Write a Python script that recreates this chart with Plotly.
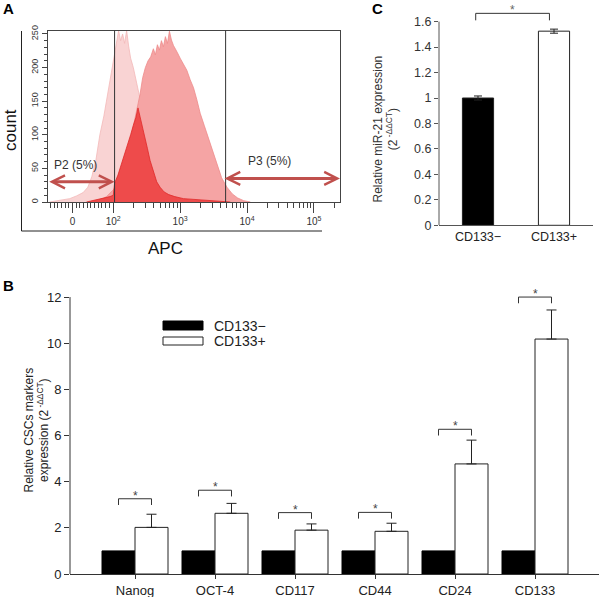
import plotly.graph_objects as go

# ---- Panel A: APC histograms (x in log-decade units, y in counts) ----
apc_iso = [1.05, 1.20, 1.35, 1.45, 1.55, 1.62, 1.68, 1.74, 1.80, 1.86, 1.92, 1.97, 2.01, 2.05,
           2.08, 2.11, 2.14, 2.17, 2.20, 2.23, 2.26, 2.30, 2.35, 2.40, 2.46, 2.52, 2.58, 2.65,
           2.72, 2.80, 2.90, 3.05]
count_iso = [0, 2, 5, 9, 14, 22, 38, 62, 100, 128, 162, 188, 214, 236,
             255, 240, 250, 236, 255, 232, 214, 200, 178, 154, 122, 92, 66, 42,
             25, 13, 5, 0]

apc_mid = [1.70, 1.80, 1.90, 2.00, 2.08, 2.14, 2.20, 2.25, 2.30, 2.35, 2.40, 2.44, 2.48, 2.52,
           2.56, 2.60, 2.63, 2.66, 2.69, 2.72, 2.75, 2.78, 2.81, 2.84, 2.87, 2.90, 2.93, 2.96,
           3.00, 3.05, 3.10, 3.15, 3.20, 3.25, 3.30, 3.36, 3.42, 3.48, 3.55, 3.62, 3.70, 3.78,
           3.86, 3.95, 4.05]
count_mid = [0, 3, 8, 18, 30, 45, 65, 88, 112, 135, 160, 185, 200, 210,
             216, 228, 219, 234, 226, 240, 231, 246, 236, 254, 241, 233, 228, 222,
             214, 206, 196, 182, 170, 152, 132, 114, 96, 76, 58, 36, 22, 12,
             6, 2, 0]

apc_pos = [1.60, 1.75, 1.85, 1.95, 2.00, 2.02, 2.07, 2.12, 2.17, 2.22, 2.26, 2.30, 2.34, 2.37,
           2.40, 2.43, 2.47, 2.51, 2.55, 2.60, 2.65, 2.70, 2.76, 2.83, 2.92, 3.05, 3.20, 3.40,
           3.60, 3.75]
count_pos = [0, 3, 5, 8, 10, 28, 40, 55, 72, 88, 100, 114, 126, 140,
             128, 116, 98, 80, 62, 44, 30, 22, 15, 11, 8, 5, 4, 3,
             1, 0]

gate_p2 = 2.02
gate_p3 = 3.68
arrow_p2_count = 30
arrow_p3_count = 35
label_p2 = "P2 (5%)"
label_p3 = "P3 (5%)"
apc_tickvals = [1.39, 2, 3, 4, 5]
apc_ticktext = ["0", "10<sup>2</sup>", "10<sup>3</sup>", "10<sup>4</sup>", "10<sup>5</sup>"]
count_tickvals = [0, 50, 100, 150, 200, 250]

# ---- Panel B: CSC markers ----
markers = ["Nanog", "OCT-4", "CD117", "CD44", "CD24", "CD133"]
neg_vals = [1, 1, 1, 1, 1, 1]
pos_vals = [2.02, 2.63, 1.90, 1.85, 4.77, 10.18]
pos_err = [0.57, 0.43, 0.27, 0.35, 1.03, 1.26]
bracket_b = [3.26, 3.63, 2.66, 2.67, 6.27, 12.0]

# ---- Panel C: miR-21 ----
groups = ["CD133\u2212", "CD133+"]
mir21 = [1.0, 1.525]
mir21_err = [0.016, 0.016]
bracket_c = 1.665

FONT = "Arial, Liberation Sans, sans-serif"
W, H = 600, 597


def px(x):
    return x / W


def py(y):
    return 1 - y / H


def label(x, y, text, size=12, color="#222", angle=0, xanchor="center"):
    return dict(x=px(x), y=py(y), xref="paper", yref="paper", text=text, textangle=angle,
                xanchor=xanchor, yanchor="middle", showarrow=False,
                font=dict(family=FONT, size=size, color=color))


fig = go.Figure()

# panel A histograms
fig.add_trace(go.Scatter(x=apc_iso, y=count_iso, mode="lines", fill="tozeroy",
                         line=dict(color="#f3b9b9", width=0.8), fillcolor="#f9d3d3",
                         xaxis="x", yaxis="y"))
fig.add_trace(go.Scatter(x=apc_mid, y=count_mid, mode="lines", fill="tozeroy",
                         line=dict(color="#ee8c8c", width=0.8), fillcolor="#f5a4a4",
                         xaxis="x", yaxis="y"))
fig.add_trace(go.Scatter(x=apc_pos, y=count_pos, mode="lines", fill="tozeroy",
                         line=dict(color="#e02a2a", width=0.8), fillcolor="#ee4b4b",
                         xaxis="x", yaxis="y"))

# panel B bars
fig.add_trace(go.Bar(x=markers, y=neg_vals, name="CD133\u2212", marker=dict(color="black", line=dict(color="black", width=1)),
                     xaxis="x2", yaxis="y2"))
fig.add_trace(go.Bar(x=markers, y=pos_vals, name="CD133+", marker=dict(color="white", line=dict(color="#222", width=1)),
                     error_y=dict(type="data", array=pos_err, arrayminus=[0] * len(pos_err), symmetric=False,
                                  color="#222", thickness=1, width=5),
                     xaxis="x2", yaxis="y2"))

# panel C bars
fig.add_trace(go.Bar(x=groups, y=mir21, width=0.41,
                     marker=dict(color=["black", "white"], line=dict(color="#222", width=1)),
                     error_y=dict(type="data", array=mir21_err, color="#222", thickness=1, width=4),
                     xaxis="x3", yaxis="y3"))

shapes = []
annotations = []

# gates in panel A
for g in (gate_p2, gate_p3):
    shapes.append(dict(type="line", xref="x", yref="y domain", x0=g, x1=g, y0=0, y1=1,
                       line=dict(color="#333", width=1)))
annotations.append(dict(x=gate_p2, y=arrow_p2_count, ax=1.02, ay=arrow_p2_count, xref="x", yref="y",
                        axref="x", ayref="y", text="", showarrow=True, arrowhead=5, arrowside="end+start",
                        arrowwidth=3, arrowsize=0.85, arrowcolor="#c0504d", standoff=0, startstandoff=0))
annotations.append(dict(x=5.39, y=arrow_p3_count, ax=gate_p3 - 0.04, ay=arrow_p3_count, xref="x", yref="y",
                        axref="x", ayref="y", text="", showarrow=True, arrowhead=5, arrowside="end+start",
                        arrowwidth=3, arrowsize=0.85, arrowcolor="#c0504d", standoff=0, startstandoff=0))
annotations.append(dict(x=1.44, y=55, xref="x", yref="y", text=label_p2, showarrow=False,
                        font=dict(family=FONT, size=12, color="#333")))
annotations.append(dict(x=4.34, y=61, xref="x", yref="y", text=label_p3, showarrow=False,
                        font=dict(family=FONT, size=12, color="#333")))

# outer L axis for panel A
shapes.append(dict(type="line", xref="paper", yref="paper", x0=px(21.5), x1=px(21.5), y0=py(31), y1=py(231),
                   line=dict(color="#222", width=1)))
shapes.append(dict(type="line", xref="paper", yref="paper", x0=px(21.5), x1=px(322), y0=py(231), y1=py(231),
                   line=dict(color="#222", width=1)))
annotations.append(label(10, 130, "count", size=17, color="#111", angle=-90))
annotations.append(label(165, 248, "APC", size=17, color="#111"))

# panel B significance brackets
half = 0.20625
for i, yb in enumerate(bracket_b):
    d = 0.27
    shapes.append(dict(type="path", xref="x2", yref="y2",
                       path=f"M {i - half},{yb - d} L {i - half},{yb} L {i + half},{yb} L {i + half},{yb - d}",
                       line=dict(color="#333", width=1)))
    annotations.append(dict(x=i, y=yb, xref="x2", yref="y2", text="*", showarrow=False, yanchor="bottom",
                            yshift=-6, font=dict(family=FONT, size=12, color="#444")))
shapes.append(dict(type="line", xref="x2 domain", yref="y2", x0=0, x1=0, y0=0, y1=12,
                   line=dict(color="#333", width=1)))

# legend for panel B
shapes.append(dict(type="rect", xref="paper", yref="paper", x0=px(163), x1=px(203), y0=py(330), y1=py(321),
                   fillcolor="black", line=dict(color="black", width=1)))
shapes.append(dict(type="rect", xref="paper", yref="paper", x0=px(163), x1=px(203), y0=py(345), y1=py(337),
                   fillcolor="white", line=dict(color="#222", width=1)))
annotations.append(label(212, 325.5, "CD133\u2212", size=14, xanchor="left"))
annotations.append(label(212, 341, "CD133+", size=14, xanchor="left"))
annotations.append(label(36.5, 430, "Relative CSCs markers<br>expression (2<sup> -\u0394\u0394CT</sup>)",
                         size=12, angle=-90))

# panel C bracket, axis line and title
dc = 0.055
shapes.append(dict(type="path", xref="x3", yref="y3",
                   path=f"M -0.03,{bracket_c - dc} L -0.03,{bracket_c} L 0.94,{bracket_c} L 0.94,{bracket_c - dc}",
                   line=dict(color="#333", width=1)))
annotations.append(dict(x=0.455, y=bracket_c, xref="x3", yref="y3", text="*", showarrow=False, yanchor="bottom",
                        yshift=-6, font=dict(family=FONT, size=12, color="#666")))
shapes.append(dict(type="line", xref="x3 domain", yref="y3", x0=0, x1=0, y0=0, y1=1.6,
                   line=dict(color="#555", width=1)))
annotations.append(label(385.5, 129, "Relative miR-21 expression<br>(2<sup> -\u0394\u0394CT</sup>)",
                         size=12, color="#333", angle=-90))

# panel letters
for letter, lx, ly in (("A", 8, 9), ("B", 8, 285), ("C", 377, 9)):
    annotations.append(label(lx, ly, f"<b>{letter}</b>", size=15, color="#000"))

lin_minor = [1.06 + 0.055 * i for i in range(17)]
log_minor = [n + lg for n in (2, 3, 4, 5) for lg in
             (0.301, 0.477, 0.602, 0.699, 0.778, 0.845, 0.903, 0.954) if n + lg < 5.38]

fig.update_layout(
    width=W, height=H,
    margin=dict(l=0, r=0, t=0, b=0, autoexpand=False),
    paper_bgcolor="white", plot_bgcolor="white",
    showlegend=False,
    barmode="group", bargap=0.175, bargroupgap=0,
    font=dict(family=FONT, color="#222"),
    shapes=shapes, annotations=annotations,
    xaxis=dict(domain=[px(47.7), px(340)], range=[1.02, 5.39], showline=True, mirror=True, linecolor="#444",
               showgrid=False, zeroline=False, tickmode="array", tickvals=apc_tickvals, ticktext=apc_ticktext,
               ticks="outside", ticklen=10, tickcolor="#444", tickfont=dict(size=10, color="#333"),
               automargin=False,
               minor=dict(tickmode="array", tickvals=lin_minor + log_minor, ticks="outside", ticklen=5,
                          tickcolor="#444")),
    yaxis=dict(domain=[py(202), py(30.6)], range=[0, 255], showline=True, mirror=True, linecolor="#444",
               showgrid=False, zeroline=False, tickmode="array", tickvals=count_tickvals, tickangle=-90,
               ticks="outside", ticklen=5, tickcolor="#444", tickfont=dict(size=9, color="#333"),
               automargin=False,
               minor=dict(dtick=10, ticks="outside", ticklen=3, tickcolor="#444")),
    xaxis2=dict(domain=[px(70), px(599)], range=[-0.8125, 5.8], anchor="y2", showline=True, linecolor="#333",
                showgrid=False, zeroline=False, ticks="outside", ticklen=4, tickcolor="#333",
                automargin=False, tickfont=dict(size=13, color="#222")),
    yaxis2=dict(domain=[py(574), py(283.2)], range=[0, 12.6], anchor="x2", showline=False, showgrid=False,
                zeroline=False, tick0=0, dtick=2, ticks="outside", ticklen=5, tickcolor="#333",
                automargin=False, tickfont=dict(size=13, color="#222")),
    xaxis3=dict(domain=[px(439), px(593)], range=[-0.513, 1.513], anchor="y3", showline=True, linecolor="#555",
                showgrid=False, zeroline=False, ticks="", automargin=False, tickfont=dict(size=12.5, color="#222")),
    yaxis3=dict(domain=[py(225.3), py(6.35)], range=[0, 1.72], anchor="x3", showline=False, showgrid=False,
                zeroline=False, tick0=0, dtick=0.2, ticks="outside", ticklen=4, tickcolor="#555",
                automargin=False, tickfont=dict(size=12.5, color="#333")),
)

# the page body has a default 8px margin; drop it so the figure fills the window exactly
fig.write_html("out.html", config={"displayModeBar": False},
               post_script="document.body.style.margin = '0';")
